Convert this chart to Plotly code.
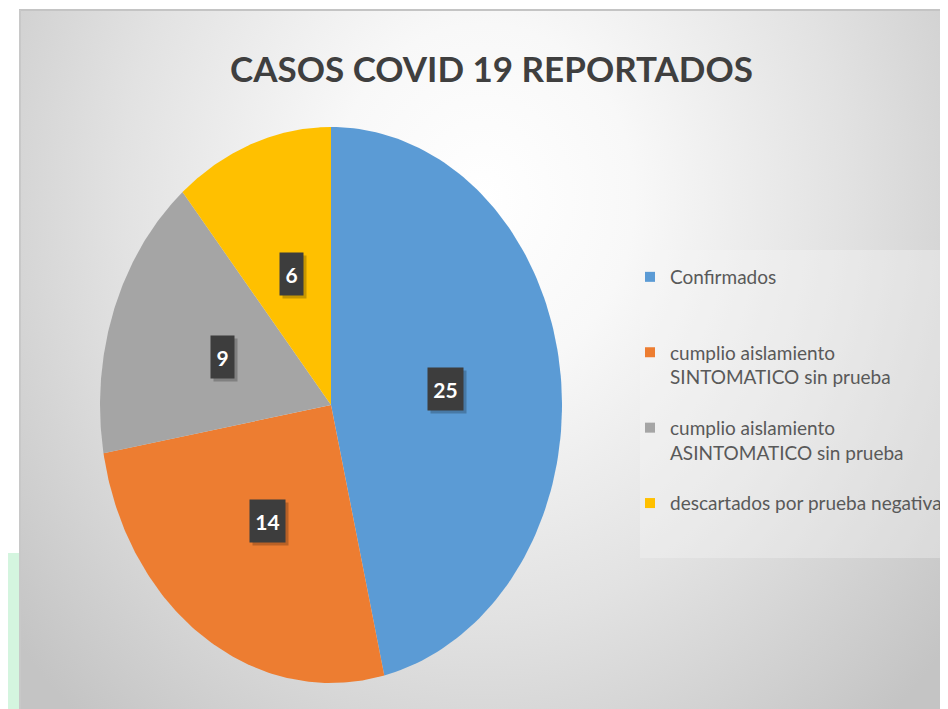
import numpy as np
import plotly.graph_objects as go

# datos del grafico
categorias = ["Confirmados",
              "cumplio aislamiento<br>SINTOMATICO sin prueba",
              "cumplio aislamiento<br>ASINTOMATICO sin prueba",
              "descartados por prueba negativa"]
casos = [25, 14, 9, 6]
colores = ["#5B9BD5", "#ED7D31", "#A5A5A5", "#FFC000"]
titulo = "CASOS COVID 19 REPORTADOS"

# la pagina deja 8px de margen: pasar pixeles de pagina a fracciones del papel
W, H, OX, OY = 940, 701, 8, 8
def px(x):
    return (x - OX) / W
def py(y):
    return 1 - (y - OY) / H

fig = go.Figure()

# fondo con degradado radial (eje x/y), centro claro cerca del titulo
fig.add_trace(go.Scatter(
    x=[-0.15, 1.15, 1.15, -0.15, -0.15], y=[-0.27, -0.27, 1.73, 1.73, -0.27],
    fill="toself", mode="lines", line=dict(width=0),
    fillgradient=dict(type="radial",
                      colorscale=[[0, "#ffffff"], [0.25, "#f8f8f8"], [0.6, "#e2e2e2"],
                                  [0.8, "#d3d3d3"], [1, "#c4c4c4"]]),
    showlegend=False, hoverinfo="skip", xaxis="x", yaxis="y"))

# rebanadas del pastel (eje x2/y2), sentido horario desde arriba
total = sum(casos)
inicio = 90.0
etiquetas = []
for nombre, valor, color in zip(categorias, casos, colores):
    barrido = valor / total * 360
    fin = inicio - barrido
    t = np.radians(np.linspace(inicio, fin, 120))
    xs = np.concatenate([[0], np.cos(t), [0]])
    ys = np.concatenate([[0], np.sin(t), [0]])
    fig.add_trace(go.Scatter(
        x=xs, y=ys, fill="toself", mode="lines", line=dict(width=0),
        fillcolor=color, name=nombre, showlegend=False,
        hoverinfo="name", xaxis="x2", yaxis="y2"))
    medio = np.radians((inicio + fin) / 2)
    etiquetas.append((valor, 0.5 * np.cos(medio), 0.5 * np.sin(medio)))
    inicio = fin

# entradas de leyenda con cuadrito
for i, (nombre, color) in enumerate(zip(categorias, colores)):
    texto = nombre if "<br>" in nombre else nombre + "<br>&nbsp;"
    fig.add_trace(go.Scatter(
        x=[None], y=[None], mode="markers", name=texto, legendgroup=str(i),
        marker=dict(symbol="square", size=10, color=color),
        xaxis="x2", yaxis="y2"))

for valor, ax, ay in etiquetas:
    ancho = 12 * len(str(valor)) + 7
    # sombra
    fig.add_annotation(x=ax, y=ay, xref="x2", yref="y2", text=" ", showarrow=False,
                       width=ancho, height=38, bgcolor="rgba(0,0,0,0.22)",
                       xshift=3, yshift=-3, borderpad=2)
    fig.add_annotation(x=ax, y=ay, xref="x2", yref="y2", text=f"<b>{valor}</b>",
                       showarrow=False, width=ancho, height=38, bgcolor="#3d3d3d",
                       font=dict(family="Lato", size=21, color="white"), borderpad=2)

fig.add_annotation(x=px(492), y=py(68), xref="paper", yref="paper", text=f"<b>{titulo}</b>",
                   xanchor="center", yanchor="middle", showarrow=False,
                   font=dict(family="Lato", size=35, color="#3f3f3f"))

# caja clara de la leyenda
fig.add_shape(type="rect", xref="paper", yref="paper", x0=px(640), x1=1.0,
              y0=py(558), y1=py(250), fillcolor="rgba(245,245,245,0.35)",
              line=dict(width=0), layer="above")
# franja verde inferior izquierda
fig.add_shape(type="rect", xref="paper", yref="paper", x0=-0.01, x1=px(19),
              y0=0, y1=py(553), fillcolor="#d4f5df", line=dict(width=0))
# borde superior e izquierdo
fig.add_shape(type="line", xref="paper", yref="paper", x0=px(19), x1=1,
              y0=py(10), y1=py(10), line=dict(color="#c4c4c4", width=2))
fig.add_shape(type="line", xref="paper", yref="paper", x0=px(20), x1=px(20),
              y0=0, y1=py(10), line=dict(color="#c8c8c8", width=2))

fig.update_layout(
    width=W, height=H,
    margin=dict(l=0, r=0, t=0, b=0),
    paper_bgcolor="white", plot_bgcolor="rgba(0,0,0,0)",
    xaxis=dict(domain=[px(19), 1], range=[0, 1], visible=False, fixedrange=True),
    yaxis=dict(domain=[0, py(10)], range=[0, 1], visible=False, fixedrange=True),
    xaxis2=dict(domain=[px(100), px(562)], range=[-1, 1], visible=False, anchor="y2"),
    yaxis2=dict(domain=[py(683), py(127)], range=[-1, 1], visible=False, anchor="x2"),
    legend=dict(x=px(630), y=py(258), xanchor="left", yanchor="top",
                font=dict(family="Lato", size=19, color="#595959"),
                bgcolor="rgba(0,0,0,0)", traceorder="grouped", tracegroupgap=23,
                valign="top", itemwidth=30),
    showlegend=True,
)

fig.write_html("out.html")
